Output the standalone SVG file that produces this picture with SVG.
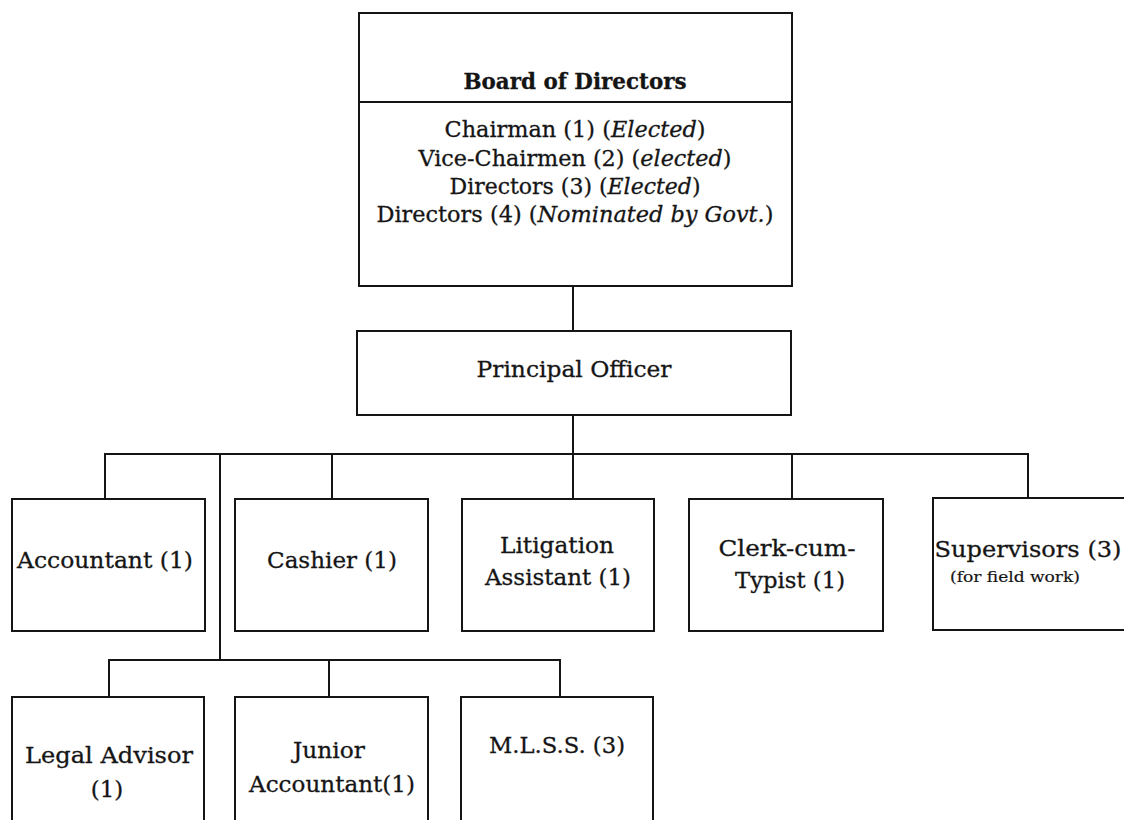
<svg xmlns="http://www.w3.org/2000/svg" width="1124" height="820" viewBox="0 0 1124 820">
  <style>
    .box { fill: #ffffff; stroke: #151515; stroke-width: 2; }
    .conn { fill: none; stroke: #151515; stroke-width: 2; }
    .t { font-family: "DejaVu Serif", "Liberation Serif", serif; font-size: 23px; fill: #151515; stroke: #151515; stroke-width: 0.3; text-anchor: middle; }
    .m { font-size: 22px; }
    .b { font-weight: bold; }
    .i { font-style: italic; }
    .s { font-size: 15px; stroke-width: 0.2; }
  </style>
  <rect width="1124" height="820" fill="#ffffff"/>

  <!-- connectors -->
  <g id="connectors">
    <path class="conn" d="M573 286 V331"/>
    <path class="conn" d="M573 415 V454"/>
    <path class="conn" d="M105 499 V454 H1028 V498"/>
    <path class="conn" d="M332 454 V499"/>
    <path class="conn" d="M573 454 V499"/>
    <path class="conn" d="M792 454 V499"/>
    <path class="conn" d="M220 454 V660"/>
    <path class="conn" d="M109 697 V660 H560 V697"/>
    <path class="conn" d="M329 660 V697"/>
  </g>

  <!-- board -->
  <g id="board">
    <rect class="box" x="359" y="13" width="433" height="273"/>
    <line class="conn" x1="359" y1="102" x2="792" y2="102"/>
    <text class="t b" x="575" y="89" textLength="223" lengthAdjust="spacingAndGlyphs">Board of Directors</text>
    <text class="t m" x="575" y="137" textLength="261" lengthAdjust="spacingAndGlyphs">Chairman (1) (<tspan class="i">Elected</tspan>)</text>
    <text class="t m" x="575" y="165.5" textLength="313" lengthAdjust="spacingAndGlyphs">Vice-Chairmen (2) (<tspan class="i">elected</tspan>)</text>
    <text class="t m" x="575" y="193.5" textLength="251" lengthAdjust="spacingAndGlyphs">Directors (3) (<tspan class="i">Elected</tspan>)</text>
    <text class="t m" x="575" y="222" textLength="397" lengthAdjust="spacingAndGlyphs">Directors (4) (<tspan class="i">Nominated by Govt.</tspan>)</text>
  </g>

  <!-- principal officer -->
  <g id="principal">
    <rect class="box" x="357" y="331" width="434" height="84"/>
    <text class="t" x="574" y="377" textLength="195" lengthAdjust="spacingAndGlyphs">Principal Officer</text>
  </g>

  <!-- first row -->
  <g id="accountant">
    <rect class="box" x="12" y="499" width="193" height="132"/>
    <text class="t" x="105" y="568" textLength="176" lengthAdjust="spacingAndGlyphs">Accountant (1)</text>
  </g>
  <g id="cashier">
    <rect class="box" x="235" y="499" width="193" height="132"/>
    <text class="t" x="332" y="568" textLength="130" lengthAdjust="spacingAndGlyphs">Cashier (1)</text>
  </g>
  <g id="litigation">
    <rect class="box" x="462" y="499" width="192" height="132"/>
    <text class="t" x="557" y="553" textLength="114" lengthAdjust="spacingAndGlyphs">Litigation</text>
    <text class="t" x="558" y="585" textLength="146" lengthAdjust="spacingAndGlyphs">Assistant (1)</text>
  </g>
  <g id="clerk">
    <rect class="box" x="689" y="499" width="194" height="132"/>
    <text class="t" x="787" y="556" textLength="137" lengthAdjust="spacingAndGlyphs">Clerk-cum-</text>
    <text class="t" x="790" y="588" textLength="110" lengthAdjust="spacingAndGlyphs">Typist (1)</text>
  </g>
  <g id="supervisors">
    <rect class="box" x="933" y="498" width="194" height="132"/>
    <text class="t" x="1028" y="557" textLength="187" lengthAdjust="spacingAndGlyphs">Supervisors (3)</text>
    <text class="t s" x="1015" y="582" textLength="130" lengthAdjust="spacingAndGlyphs">(for field work)</text>
  </g>

  <!-- second row -->
  <g id="legal">
    <rect class="box" x="12" y="697" width="192" height="130"/>
    <text class="t" x="109" y="763" textLength="168" lengthAdjust="spacingAndGlyphs">Legal Advisor</text>
    <text class="t" x="107" y="797">(1)</text>
  </g>
  <g id="junior">
    <rect class="box" x="235" y="697" width="193" height="130"/>
    <text class="t" x="329" y="758" textLength="72" lengthAdjust="spacingAndGlyphs">Junior</text>
    <text class="t" x="332" y="792" textLength="166" lengthAdjust="spacingAndGlyphs">Accountant(1)</text>
  </g>
  <g id="mlss">
    <rect class="box" x="461" y="697" width="192" height="130"/>
    <text class="t" x="557" y="753" textLength="136" lengthAdjust="spacingAndGlyphs">M.L.S.S. (3)</text>
  </g>
</svg>
